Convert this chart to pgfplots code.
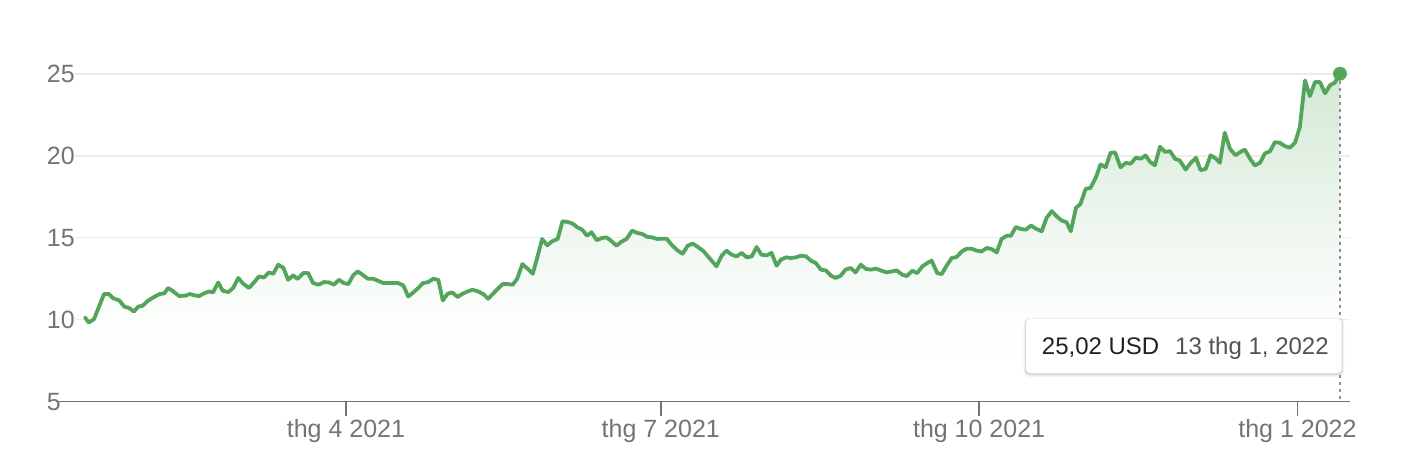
\documentclass[border=0pt]{standalone}
\usepackage{fontspec}
\setmainfont{Liberation Sans}
\usepackage{pgfplots}
\usepackage{pgfplotstable}
\pgfplotsset{compat=1.18}
\usepgfplotslibrary{fillbetween}
\definecolor{linegreen}{RGB}{84,165,92}
\definecolor{fillgreen}{RGB}{211,233,213}
\definecolor{fillA}{RGB}{252,254,252}
\definecolor{fillB}{RGB}{240,247,241}
\definecolor{fillC}{RGB}{226,240,227}
\definecolor{axgray}{RGB}{112,117,122}
\definecolor{gridgray}{RGB}{236,236,236}
\definecolor{tipdark}{RGB}{32,33,36}
\definecolor{tipgray}{RGB}{80,84,88}
\pgfdeclareverticalshading{areafade}{100bp}{color(0bp)=(white); color(25bp)=(white); color(37.5bp)=(fillA); color(50bp)=(fillB); color(62.5bp)=(fillC); color(75bp)=(fillgreen); color(100bp)=(fillgreen)}

% day number (0 = 1 Jan 2021), closing price in USD
\pgfplotstableread{
d v
14.6 10.14
15.7 9.83
17.2 10.04
20.1 11.57
21.5 11.57
22.7 11.32
24.5 11.18
25.9 10.81
27.4 10.71
28.7 10.50
30.0 10.81
31.2 10.85
32.9 11.18
34.8 11.42
36.2 11.57
37.5 11.61
38.6 11.94
40.1 11.73
41.8 11.45
43.5 11.47
44.9 11.57
46.4 11.48
47.6 11.45
49.2 11.63
50.5 11.73
51.6 11.67
53.1 12.28
54.4 11.77
56.0 11.69
57.4 11.94
58.9 12.55
60.3 12.20
62.0 11.94
63.5 12.30
64.9 12.65
66.3 12.58
67.7 12.89
69.0 12.81
70.4 13.36
71.9 13.18
73.3 12.44
74.8 12.71
76.0 12.49
77.7 12.85
79.1 12.85
80.5 12.24
82.2 12.14
83.6 12.30
85.2 12.28
86.5 12.14
88.0 12.44
89.4 12.24
90.7 12.18
92.1 12.71
93.4 12.95
94.8 12.75
96.4 12.50
97.9 12.50
99.3 12.38
100.8 12.24
102.2 12.24
103.7 12.24
105.1 12.24
106.6 12.10
108.0 11.42
109.5 11.67
110.9 11.94
112.3 12.24
113.8 12.30
115.2 12.50
116.7 12.44
118.0 11.18
119.4 11.59
120.7 11.67
122.3 11.39
123.7 11.59
125.2 11.73
126.6 11.83
128.2 11.73
129.7 11.57
131.1 11.28
133.6 11.83
135.3 12.18
136.7 12.18
138.2 12.14
139.5 12.50
141.0 13.40
142.5 13.12
144.0 12.81
145.4 13.87
146.7 14.93
148.2 14.54
149.6 14.79
151.2 14.93
152.6 16.01
154.1 15.97
155.5 15.87
156.9 15.64
158.3 15.50
159.7 15.13
161.0 15.34
162.5 14.85
163.9 14.99
165.3 15.03
166.8 14.79
168.2 14.52
169.5 14.75
171.1 14.93
172.7 15.44
174.2 15.30
175.6 15.24
177.1 15.06
178.5 15.03
180.0 14.93
181.4 14.95
182.7 14.95
184.1 14.58
185.8 14.24
187.3 14.03
188.8 14.52
190.2 14.65
191.5 14.48
193.3 14.20
195.2 13.73
197.1 13.26
198.6 13.91
200.0 14.22
201.5 13.97
202.9 13.87
204.4 14.08
205.8 13.81
207.3 13.87
208.7 14.44
210.1 13.97
211.6 13.93
213.0 14.08
214.5 13.30
215.7 13.67
217.2 13.81
218.6 13.77
220.1 13.81
221.5 13.91
223.0 13.87
224.4 13.61
225.8 13.46
227.3 13.06
228.7 13.01
230.2 12.69
231.5 12.55
233.0 12.69
234.4 13.06
235.9 13.16
237.3 12.89
238.8 13.36
240.3 13.10
241.7 13.06
243.2 13.12
244.6 13.01
246.3 12.89
247.7 12.95
249.2 13.01
250.8 12.75
252.1 12.67
253.7 12.99
255.1 12.85
256.6 13.26
258.0 13.46
259.3 13.61
260.9 12.85
262.2 12.79
263.6 13.30
265.1 13.77
266.5 13.83
268.0 14.17
269.4 14.34
270.8 14.34
272.3 14.22
273.7 14.17
275.2 14.38
276.6 14.32
278.1 14.11
279.5 14.93
281.0 15.13
282.2 15.13
283.6 15.66
285.1 15.54
286.5 15.50
288.0 15.75
289.4 15.56
291.1 15.40
292.5 16.22
294.0 16.63
295.4 16.32
296.9 16.05
298.3 15.95
299.5 15.40
301.0 16.83
302.3 17.07
303.8 17.99
305.2 18.05
306.7 18.66
308.1 19.48
309.6 19.31
311.0 20.19
312.3 20.21
313.9 19.30
315.4 19.58
316.8 19.52
318.3 19.89
319.8 19.83
321.1 20.03
322.4 19.64
323.8 19.43
325.3 20.56
326.7 20.25
328.2 20.29
329.6 19.83
331.0 19.72
332.7 19.17
334.2 19.58
335.7 19.89
337.0 19.13
338.5 19.21
339.9 20.04
341.4 19.84
342.6 19.58
344.0 21.42
345.5 20.44
347.1 20.04
348.6 20.25
349.8 20.39
351.3 19.83
352.7 19.42
354.2 19.58
355.6 20.15
357.1 20.29
358.5 20.84
359.9 20.80
361.4 20.60
362.8 20.50
364.3 20.80
365.7 21.76
367.2 24.61
368.6 23.65
370.1 24.51
371.5 24.51
373.0 23.82
374.4 24.31
375.8 24.47
377.3 25.02
}\pricedata

\begin{document}
\begin{tikzpicture}[x=1pt,y=1pt]
\begin{axis}[
  at={(75pt,68.3pt)}, anchor=south west,
  scale only axis, width=1275pt, height=327.7pt,
  xmin=11.7, xmax=380.2, ymin=5, ymax=25,
  clip=false,
  axis line style={draw=none},
  xtick={90,181,273,365},
  xticklabels={thg 4 2021, thg 7 2021, thg 10 2021, thg 1 2022},
  ytick={5,10,15,20,25},
  yticklabels={5,10,15,20,25},
  tick pos=left,
  xtick align=outside,
  major tick length=14pt,
  xtick style={draw=axgray, line width=1.5pt},
  ytick style={draw=none},
  ymajorgrids, grid style={draw=gridgray, line width=1.3pt},
  tick label style={font=\fontsize{25}{30}\selectfont, text=axgray, inner sep=0pt},
  xticklabel style={anchor=north, yshift=-3.6pt},
  yticklabel style={anchor=west, xshift=-28.3pt},
  /pgf/number format/assume math mode=true,
]
\addplot[draw=none, name path=price, forget plot] table[x=d, y=v] {\pricedata};
\path[name path=base] (axis cs:14.6,5) -- (axis cs:377.3,5);
\addplot[shading=areafade, draw=none] fill between[of=price and base];
\addplot[draw=linegreen, line width=3.8pt, line join=round, line cap=round, no marks] table[x=d, y=v] {\pricedata};
\draw[axgray, line width=1.6pt] (axis cs:7.08,5) -- (axis cs:380.2,5);
\draw[axgray!80, line width=1.8pt, dash pattern=on 3.5pt off 3.5pt] (axis cs:377.3,25.02) -- (axis cs:377.3,5);
\addplot[only marks, mark=*, mark size=6.7pt, color=linegreen, mark options={draw=none, fill=linegreen}] coordinates {(377.3,25.02)};
\end{axis}
% tooltip
\fill[black, opacity=0.05, rounded corners=6pt] (1023.5,93.2) rectangle (1344.2,152.2);
\fill[black, opacity=0.07, rounded corners=5pt] (1024.8,94.7) rectangle (1342.9,151.9);
\fill[black, opacity=0.08, rounded corners=4pt] (1025.5,95.7) rectangle (1342.2,151.7);
\fill[white, rounded corners=4pt] (1026,96.7) rectangle (1341.7,151.7);
\node[anchor=base west, inner sep=0pt, font=\fontsize{24}{28}\selectfont, text=tipdark] at (1041.7,115.7) {25,02 USD};
\node[anchor=base west, inner sep=0pt, font=\fontsize{24}{28}\selectfont, text=tipgray] at (1175,115.7) {13 thg 1, 2022};
\path (0,0) rectangle (1408,470);
\end{tikzpicture}
\end{document}
